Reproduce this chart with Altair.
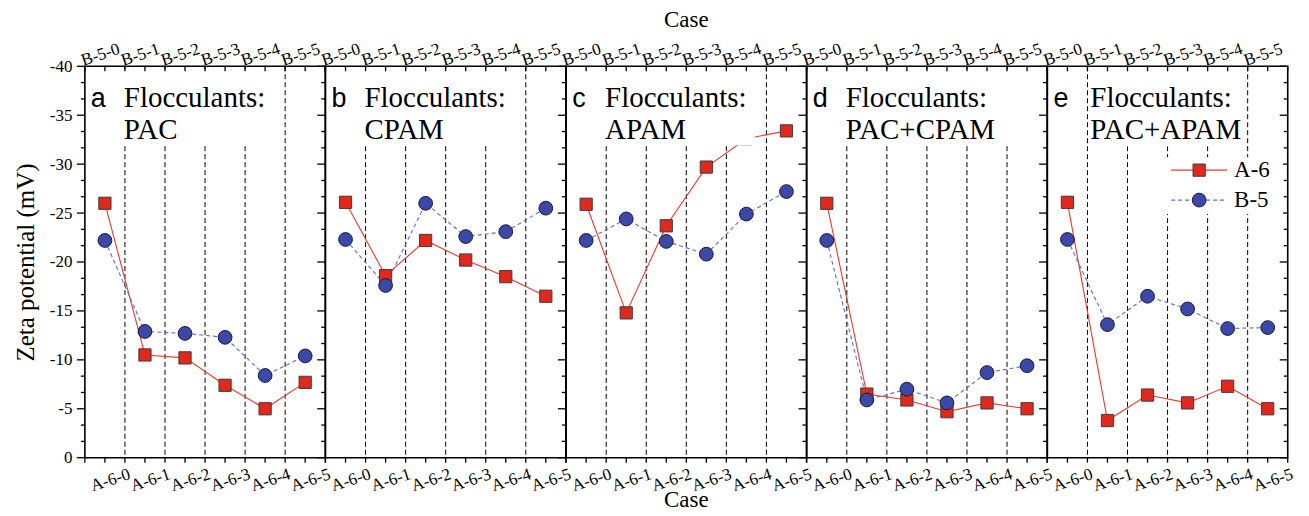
import json
import altair as alt
import pandas as pd

# ---------------- data ----------------
cases_bottom = ["A-6-0", "A-6-1", "A-6-2", "A-6-3", "A-6-4", "A-6-5"]
cases_top = ["B-5-0", "B-5-1", "B-5-2", "B-5-3", "B-5-4", "B-5-5"]
series = ["A-6", "B-5"]
panel_letters = ["a", "b", "c", "d", "e"]
flocculants = ["PAC", "CPAM", "APAM", "PAC+CPAM", "PAC+APAM"]

a6_pac = [-26.0, -10.5, -10.2, -7.4, -5.0, -7.7]
a6_cpam = [-26.1, -18.6, -22.2, -20.2, -18.5, -16.5]
a6_apam = [-25.9, -14.8, -23.7, -29.7, -32.6, -33.4]
a6_pac_cpam = [-26.0, -6.5, -5.9, -4.7, -5.6, -5.0]
a6_pac_apam = [-26.1, -3.8, -6.4, -5.6, -7.3, -5.0]

b5_pac = [-22.2, -12.9, -12.7, -12.3, -8.4, -10.4]
b5_cpam = [-22.3, -17.6, -26.0, -22.6, -23.1, -25.5]
b5_apam = [-22.2, -24.4, -22.1, -20.8, -24.9, -27.2]
b5_pac_cpam = [-22.2, -5.9, -7.0, -5.6, -8.7, -9.4]
b5_pac_apam = [-22.3, -13.6, -16.5, -15.2, -13.2, -13.3]

a6_all = [a6_pac, a6_cpam, a6_apam, a6_pac_cpam, a6_pac_apam]
b5_all = [b5_pac, b5_cpam, b5_apam, b5_pac_cpam, b5_pac_apam]

# ---------------- style ----------------
W, H = 240.7, 392
SERIF = "Liberation Serif"
SANS = "Liberation Sans"
RED_FILL, RED_LINE = "#e0281c", "#e8392c"
BLUE_FILL, BLUE_LINE = "#3b48a8", "#5b6bd6"

xscale = alt.Scale(domain=[0, 6], nice=False, zero=False)
yscale = alt.Scale(domain=[0, -40], nice=False, zero=False)

x_ticks = [i * 0.5 for i in range(13)]
y_major = [-5 * i for i in range(9)]
y_minor = [-(5 / 3) * i for i in range(25) if i % 3 != 0]

# white boxes behind the panel captions (x1, x2, y1, y2 in px)
caption_boxes = [(37, 186, 3, 79), (37, 186, 3, 79), (37, 189, 3, 79),
                 (37, 234, 3, 79), (45, 197, 3, 80)]
caption_x = [39, 39, 39, 39, 43]


def one():
    return pd.DataFrame({"z": [0]})


def panel(k):
    rows = []
    for i in range(6):
        rows.append({"pos": i + 0.5, "value": a6_all[k][i], "series": series[0]})
        rows.append({"pos": i + 0.5, "value": b5_all[k][i], "series": series[1]})
    df = pd.DataFrame(rows)
    base = alt.Chart(df)

    bottom_axis = alt.Axis(
        orient="bottom", values=[i + 0.5 for i in range(6)],
        labelExpr=json.dumps(cases_bottom) + "[floor(datum.value)]",
        ticks=False, domain=False, grid=False, labelAngle=342,
        labelAlign="center", labelBaseline="middle", labelPadding=22,
        labelOffset=5, labelFont=SERIF, labelFontSize=17, labelColor="black",
        labelOverlap=False, title=None, zindex=1)
    top_axis = alt.Axis(
        orient="top", values=[i + 0.5 for i in range(6)],
        labelExpr=json.dumps(cases_top) + "[floor(datum.value)]",
        ticks=False, domain=False, grid=False, labelAngle=342,
        labelAlign="center", labelBaseline="middle", labelPadding=12,
        labelOffset=-5, labelFont=SERIF, labelFontSize=17, labelColor="black",
        labelOverlap=False, title=None, zindex=1)
    if k == 0:
        left_axis = alt.Axis(
            orient="left", values=y_major, labelExpr="'' + datum.value",
            ticks=False, domain=False, grid=False, labelPadding=13,
            labelFont=SERIF, labelFontSize=17, labelColor="black",
            title="Zeta potential (mV)", titleFont=SERIF, titleFontSize=25,
            titleFontWeight="normal", titleColor="black", titlePadding=11,
            zindex=1)
    else:
        left_axis = None

    dashed = alt.Chart(pd.DataFrame({"b": [1, 2, 3, 4, 5]})).mark_rule(
        color="black", strokeWidth=1, strokeDash=[5, 3]).encode(
        x=alt.X("b:Q", scale=xscale, axis=None), y=alt.value(0), y2=alt.value(H))

    line_a = base.transform_filter(f"datum.series == '{series[0]}'").mark_line(
        color=RED_LINE, strokeWidth=1.1).encode(
        x=alt.X("pos:Q", scale=xscale, axis=bottom_axis),
        y=alt.Y("value:Q", scale=yscale, axis=left_axis))
    line_b = base.transform_filter(f"datum.series == '{series[1]}'").mark_line(
        color=BLUE_LINE, strokeWidth=1.1, strokeDash=[4, 3]).encode(
        x=alt.X("pos:Q", scale=xscale, axis=top_axis),
        y=alt.Y("value:Q", scale=yscale, axis=None))
    pts_a = base.transform_filter(f"datum.series == '{series[0]}'").mark_square(
        fill=RED_FILL, stroke="#3c3c3c", strokeWidth=1, size=150, opacity=1).encode(
        x=alt.X("pos:Q", scale=xscale, axis=None),
        y=alt.Y("value:Q", scale=yscale, axis=None))
    pts_b = base.transform_filter(f"datum.series == '{series[1]}'").mark_circle(
        fill=BLUE_FILL, stroke="#1a1a30", strokeWidth=1, size=190, opacity=1).encode(
        x=alt.X("pos:Q", scale=xscale, axis=None),
        y=alt.Y("value:Q", scale=yscale, axis=None))

    bx1, bx2, by1, by2 = caption_boxes[k]
    box = alt.Chart(one()).mark_rect(fill="white", strokeWidth=0).encode(
        x=alt.value(bx1), x2=alt.value(bx2), y=alt.value(by1), y2=alt.value(by2))

    t_letter = alt.Chart(one()).mark_text(
        text=panel_letters[k], font=SANS, fontSize=27, align="left",
        baseline="alphabetic", color="black").encode(x=alt.value(6), y=alt.value(41))
    t_floc = alt.Chart(one()).mark_text(
        text="Flocculants:", font=SERIF, fontSize=29, align="left",
        baseline="alphabetic", color="black").encode(
        x=alt.value(caption_x[k]), y=alt.value(41))
    t_name = alt.Chart(one()).mark_text(
        text=flocculants[k], font=SERIF, fontSize=29, align="left",
        baseline="alphabetic", color="black").encode(
        x=alt.value(caption_x[k]), y=alt.value(73))

    tick_df = pd.DataFrame({"t": x_ticks})
    top_ticks = alt.Chart(tick_df).mark_rule(color="black", strokeWidth=1.3).encode(
        x=alt.X("t:Q", scale=xscale, axis=None), y=alt.value(0), y2=alt.value(5))
    bot_ticks = alt.Chart(tick_df).mark_rule(color="black", strokeWidth=1.3).encode(
        x=alt.X("t:Q", scale=xscale, axis=None), y=alt.value(H), y2=alt.value(H + 5))
    ymaj = pd.DataFrame({"v": y_major})
    ymin = pd.DataFrame({"v": y_minor})
    r_major = alt.Chart(ymaj).mark_rule(color="black", strokeWidth=1.3).encode(
        y=alt.Y("v:Q", scale=yscale, axis=None), x=alt.value(W - 8), x2=alt.value(W))
    r_minor = alt.Chart(ymin).mark_rule(color="black", strokeWidth=1.3).encode(
        y=alt.Y("v:Q", scale=yscale, axis=None), x=alt.value(W - 4), x2=alt.value(W))

    layers = [dashed, line_a, line_b, pts_a, pts_b, box, t_letter, t_floc, t_name,
              top_ticks, bot_ticks, r_major, r_minor]

    if k == 0:
        l_major = alt.Chart(ymaj).mark_rule(color="black", strokeWidth=1.3).encode(
            y=alt.Y("v:Q", scale=yscale, axis=None), x=alt.value(-8), x2=alt.value(0))
        l_minor = alt.Chart(ymin).mark_rule(color="black", strokeWidth=1.3).encode(
            y=alt.Y("v:Q", scale=yscale, axis=None), x=alt.value(-4), x2=alt.value(0))
        layers += [l_major, l_minor]

    if k == 2:
        case_top = alt.Chart(one()).mark_text(
            text="Case", font=SERIF, fontSize=23, align="center",
            baseline="alphabetic", color="black").encode(
            x=alt.value(W / 2), y=alt.value(-39))
        case_bot = alt.Chart(one()).mark_text(
            text="Case", font=SERIF, fontSize=23, align="center",
            baseline="alphabetic", color="black").encode(
            x=alt.value(W / 2), y=alt.value(H + 49))
        layers += [case_top, case_bot]

    if k == 4:
        lg_box = alt.Chart(one()).mark_rect(fill="white", strokeWidth=0).encode(
            x=alt.value(115), x2=alt.value(236), y=alt.value(91), y2=alt.value(148))
        lg_la = alt.Chart(one()).mark_rule(color=RED_LINE, strokeWidth=1.1).encode(
            x=alt.value(124), x2=alt.value(180), y=alt.value(104))
        lg_lb = alt.Chart(one()).mark_rule(color=BLUE_LINE, strokeWidth=1.1,
                                           strokeDash=[4, 3]).encode(
            x=alt.value(124), x2=alt.value(180), y=alt.value(134))
        lg_pa = alt.Chart(one()).mark_square(
            fill=RED_FILL, stroke="#3c3c3c", strokeWidth=1, size=150, opacity=1).encode(
            x=alt.value(152), y=alt.value(104))
        lg_pb = alt.Chart(one()).mark_circle(
            fill=BLUE_FILL, stroke="#1a1a30", strokeWidth=1, size=190, opacity=1).encode(
            x=alt.value(152), y=alt.value(134))
        lg_ta = alt.Chart(one()).mark_text(
            text=series[0], font=SERIF, fontSize=23, align="left",
            baseline="middle", color="black").encode(x=alt.value(187), y=alt.value(104))
        lg_tb = alt.Chart(one()).mark_text(
            text=series[1], font=SERIF, fontSize=23, align="left",
            baseline="middle", color="black").encode(x=alt.value(187), y=alt.value(134))
        layers += [lg_box, lg_la, lg_lb, lg_pa, lg_pb, lg_ta, lg_tb]

    return alt.layer(*layers).resolve_axis(x="independent", y="independent").properties(
        width=W, height=H)


chart = alt.hconcat(*[panel(k) for k in range(5)], spacing=0, bounds="flush").configure_view(
    stroke="black", strokeWidth=1.6).properties(
    padding={"left": 4, "top": 0, "right": 5, "bottom": 0}, background="white")

chart.save("out.html", embed_options={"renderer": "svg", "actions": False})
